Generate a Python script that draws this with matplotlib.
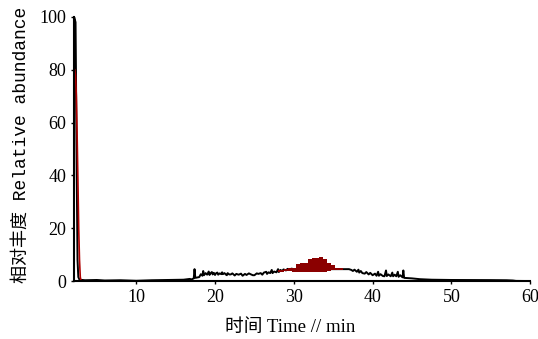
import matplotlib.pyplot as plt

# black total ion trace (time in min, relative abundance)
t_black = [2.1, 2.12, 2.3, 2.35, 2.45, 2.55, 2.65, 2.8, 3.5, 5.0, 6.0, 8.0, 10.0, 12.0, 14.0,
           16.0, 16.8, 17.0, 17.3, 17.4, 17.5, 18.0, 18.2, 18.4, 18.5, 18.6, 18.8, 19.0, 19.2,
           19.3, 19.45, 19.6, 19.7, 19.85, 20.0, 20.15, 20.3, 20.4, 20.6, 20.8, 20.9, 21.0,
           21.2, 21.4, 21.5, 21.6, 21.8, 22.0, 22.2, 22.5, 22.7, 23.0, 23.3, 23.5, 23.8, 24.0,
           24.3, 24.5, 24.8, 25.0, 25.3, 25.5, 25.8, 26.0, 26.2, 26.5, 26.6, 26.8, 27.0, 27.2,
           27.3, 27.5, 27.8, 28.0, 28.1, 28.3, 28.5, 28.7, 29.0, 29.2, 29.5, 29.7, 30.0, 37.0,
           37.3, 37.5, 37.7, 38.0, 38.2, 38.3, 38.5, 38.7, 39.0, 39.2, 39.5, 39.7, 40.0, 40.3,
           40.5, 40.7, 40.8, 41.0, 41.3, 41.5, 41.7, 41.8, 42.0, 42.3, 42.5, 42.6, 42.8, 43.0,
           43.2, 43.3, 43.5, 43.8, 43.9, 44.0, 45.0, 46.0, 47.5, 50.0, 55.0, 57.0, 57.8, 58.2,
           60.0]
y_black = [0, 100, 98, 80, 40, 8, 1.5, 0.5, 0.3, 0.4, 0.2, 0.3, 0.1, 0.3, 0.4,
           0.5, 0.8, 0.6, 1.0, 4.5, 1.2, 1.5, 2.6, 2.0, 3.8, 2.2, 3.0, 2.4, 3.6,
           2.3, 3.0, 3.4, 2.5, 3.1, 2.3, 3.0, 3.2, 2.4, 2.9, 2.6, 3.3, 2.6,
           3.0, 2.4, 2.2, 3.0, 2.5, 2.5, 2.9, 2.1, 2.7, 2.4, 2.8, 2.0, 2.7, 2.3,
           2.9, 2.6, 2.2, 2.2, 2.9, 2.7, 3.0, 2.4, 3.2, 3.5, 2.7, 3.3, 3.0, 4.2,
           3.0, 3.6, 3.3, 4.5, 3.4, 4.2, 3.8, 4.4, 4.0, 4.6, 4.3, 4.7, 4.5, 4.5,
           4.2, 3.8, 4.3, 3.5, 4.3, 3.2, 3.8, 3.0, 2.8, 3.4, 2.5, 3.1, 2.2, 2.8,
           2.0, 3.5, 2.0, 2.6, 1.9, 1.8, 4.0, 1.9, 2.5, 1.8, 3.2, 1.8, 2.4, 1.8,
           3.5, 1.6, 2.2, 1.4, 4.0, 1.2, 1.0, 0.7, 0.5, 0.4, 0.35, 0.3, 0.2, 0.05,
           0]

# red trace, first peak
t_red = [2.2, 2.3, 2.4, 2.5, 2.6, 2.7, 2.8, 2.9, 3.0]
y_red = [80, 78, 70, 55, 38, 20, 8, 1.5, 0]

# red filled region in the hump
t_fill = [28.0, 28.5, 29.0, 29.5, 30.0, 30.5, 31.0, 31.5, 32.0, 32.5, 33.0, 33.5,
          34.0, 34.5, 35.0, 35.5, 36.0, 36.5]
fill_hi = [4.1, 4.3, 4.6, 4.8, 5.0, 6.5, 6.8, 7.0, 8.5, 8.7, 8.8, 9.0,
           8.5, 7.0, 6.0, 5.0, 4.8, 4.6]
fill_lo = [3.4, 3.6, 3.8, 3.9, 3.5, 3.4, 3.3, 3.3, 3.3, 3.3, 3.4, 3.4,
           3.5, 3.7, 4.0, 4.2, 4.3, 4.4]

x_ticks = [10, 20, 30, 40, 50, 60]
y_ticks = [0, 20, 40, 60, 80, 100]

fig = plt.figure(figsize=(5.38, 3.39), dpi=100)
ax = fig.add_axes([0.1375, 0.171, 0.848, 0.779])

ax.plot(t_black, y_black, color='black', lw=1.4)
ax.fill_between(t_fill, fill_lo, fill_hi, step='mid', color='#8b0000', lw=0, zorder=3)
ax.plot(t_red, y_red, color='#b00000', lw=1.2)

ax.set_xlim(2.1, 60)
ax.set_ylim(0, 100)
ax.set_xticks(x_ticks)
ax.set_yticks(y_ticks)
for s in ['top', 'right']:
    ax.spines[s].set_visible(False)
ax.spines['left'].set_linewidth(1.5)
ax.spines['bottom'].set_linewidth(1.5)
ax.tick_params(direction='out', length=2, width=1, labelsize=13)
for lab in ax.get_xticklabels() + ax.get_yticklabels():
    lab.set_family('Liberation Serif')

ax.set_xlabel('时间 Time // min', family=['Liberation Serif', 'Noto Sans CJK SC'], fontsize=13.5)
ax.xaxis.set_label_coords(0.474, -0.145)
ax.set_ylabel('相对丰度 Relative abundance', family=['Liberation Mono', 'Noto Sans CJK SC'], fontsize=13)
ax.yaxis.set_label_coords(-0.097, 0.515)

fig.savefig('out.png', dpi=100)
